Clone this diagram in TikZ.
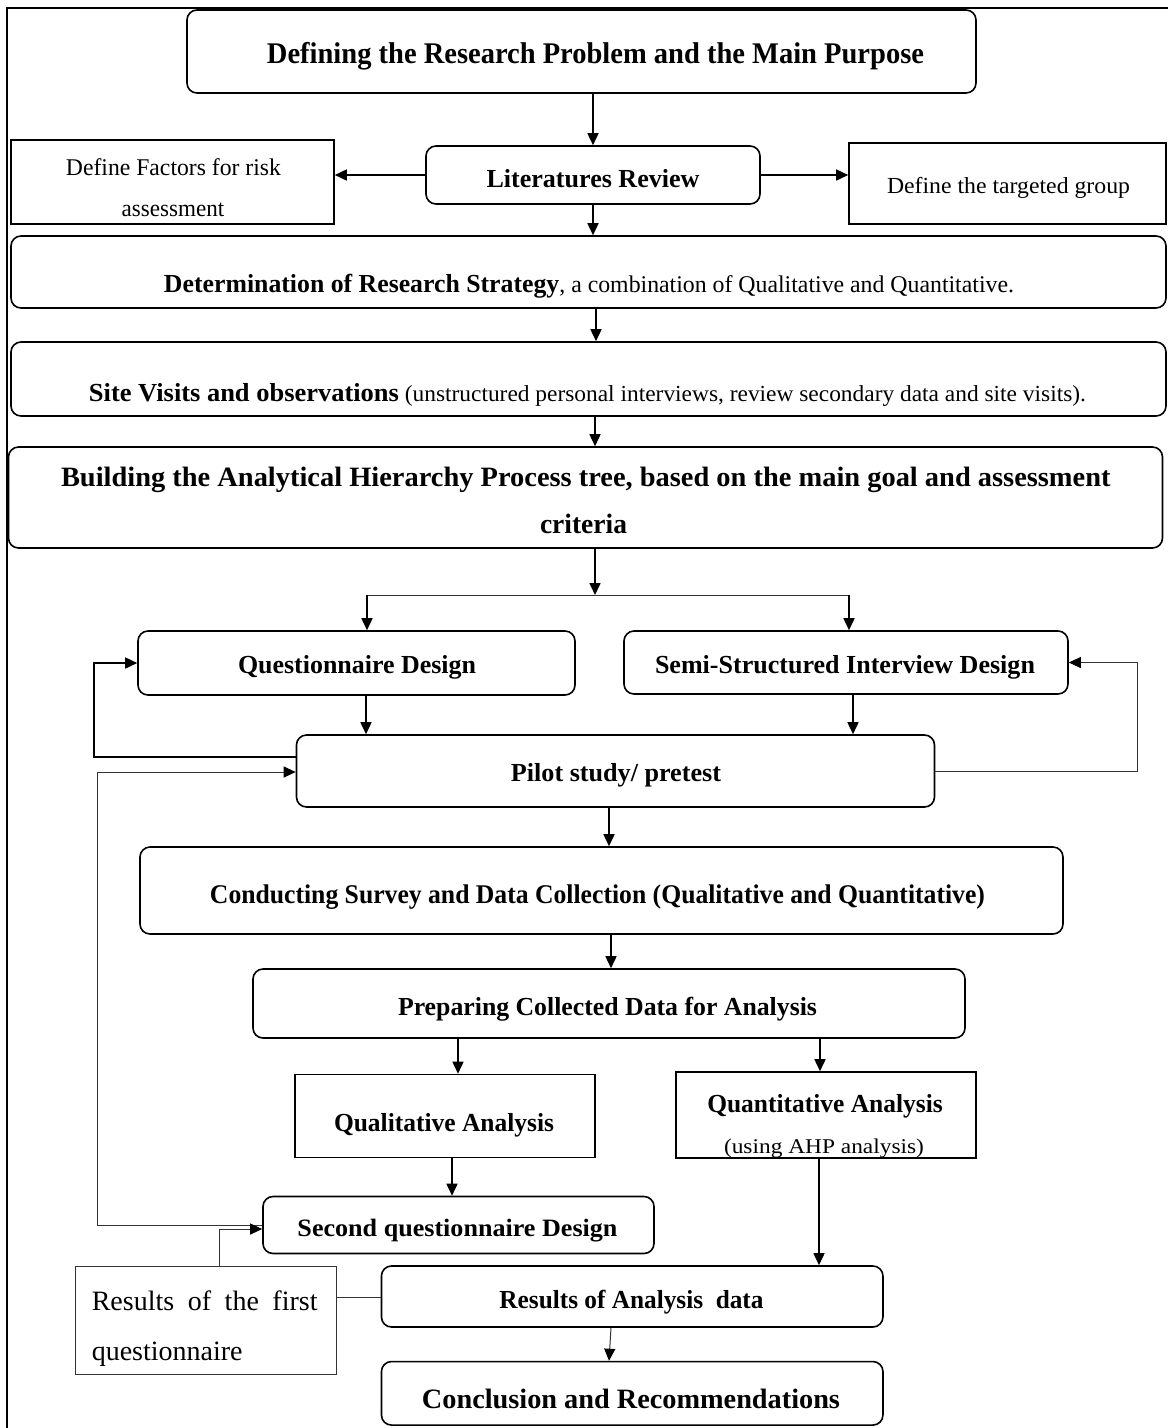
\documentclass[tikz,border=0pt]{standalone}
\usepackage{fontspec}
\setmainfont{Liberation Serif}
\usepackage{graphicx}
\usetikzlibrary{arrows.meta}

% font size helpers (bold / regular)
\newcommand\bsz[1]{\fontsize{#1}{#1}\selectfont\bfseries}
\newcommand\rsz[1]{\fontsize{#1}{#1}\selectfont\mdseries}
% one text line: x offset, baseline offset below the node centre, set width, text
\newcommand\tline[4]{\raisebox{-#2pt}[0pt][0pt]{\makebox[0pt][c]{\kern#1pt\kern#1pt\resizebox{#3pt}{\height}{#4}}}}

\tikzset{
  rbox/.style={draw, rounded corners=10pt, line width=1.6pt, inner sep=0pt},
  sbox/.style={draw, rectangle, line width=1.6pt, inner sep=0pt},
  lbox/.style={draw=black!80, rectangle, line width=1pt, inner sep=0pt},
  tip/.style={-{Triangle[length=12pt,width=11pt,color=black]}},
  arr/.style={line width=1.6pt, tip},
  thinln/.style={line width=1pt, draw=black!80},
}

\begin{document}
\begin{tikzpicture}[x=1pt, y=-1pt]
\useasboundingbox (0,0) rectangle (1168,1428);

% page frame
\draw[line width=2pt] (7,1428) -- (7,8) -- (1168,8);

% ---------- boxes ----------
\node[rbox, minimum width=789pt, minimum height=83pt] (title) at (581.5,51.5)
  {\tline{14}{11.5}{657}{\bsz{30}Defining the Research Problem and the Main Purpose}};

\node[rbox, minimum width=334pt, minimum height=58pt] (lit) at (593,175)
  {\tline{0}{12}{213}{\bsz{26}Literatures Review}};

\node[sbox, minimum width=323pt, minimum height=84pt] (factors) at (172.5,182)
  {\tline{1}{-7}{215}{\rsz{24}Define Factors for risk}\tline{0.5}{34}{102.6}{\rsz{24}assessment}};

\node[sbox, minimum width=317pt, minimum height=81pt] (target) at (1007.5,183.5)
  {\tline{1}{9.5}{243}{\rsz{23}Define the targeted group}};

\node[rbox, minimum width=1155pt, minimum height=72pt] (strat) at (588.5,272)
  {\tline{0.5}{20}{850}{{\bsz{26}Determination of Research Strategy}{\rsz{24}, a combination of Qualitative and Quantitative.}}};

\node[rbox, minimum width=1155pt, minimum height=74pt] (site) at (588.5,379)
  {\tline{-1}{22.5}{997}{{\bsz{26}Site Visits and observations}{\rsz{23} (unstructured personal interviews, review secondary data and site visits).}}};

\node[rbox, minimum width=1154pt, minimum height=101pt] (build) at (585.5,497.5)
  {\tline{0.3}{-11.5}{1049.5}{\bsz{28}Building the Analytical Hierarchy Process tree, based on the main goal and assessment}\tline{-2}{35.5}{87}{\bsz{28}criteria}};

\node[rbox, minimum width=437pt, minimum height=64pt] (q) at (356.5,663)
  {\tline{0.5}{10}{238}{\bsz{26}Questionnaire Design}};

\node[rbox, minimum width=444pt, minimum height=63pt] (semi) at (846,662.5)
  {\tline{-1}{10.5}{380}{\bsz{26}Semi-Structured Interview Design}};

\node[rbox, minimum width=638pt, minimum height=72pt] (pilot) at (615.5,771)
  {\tline{0.5}{10.5}{210}{\bsz{26}Pilot study/ pretest}};

\node[rbox, minimum width=923pt, minimum height=87pt] (conduct) at (601.5,890.5)
  {\tline{-4}{12.5}{775}{\bsz{27}Conducting Survey and Data Collection (Qualitative and Quantitative)}};

\node[rbox, minimum width=712pt, minimum height=69pt] (prep) at (609,1003.5)
  {\tline{-1.5}{11.5}{419}{\bsz{26}Preparing Collected Data for Analysis}};

\node[sbox, minimum width=300pt, minimum height=83pt] (qual) at (445,1116)
  {\tline{-1}{15}{220}{\bsz{26}Qualitative Analysis}};

\node[sbox, minimum width=300pt, minimum height=86pt] (quant) at (826,1115)
  {\tline{-1}{-2.7}{235.5}{\bsz{26}Quantitative Analysis}\tline{-2}{38}{200}{\rsz{21}(using AHP analysis)}};

\node[rbox, minimum width=391pt, minimum height=57pt] (secq) at (458.5,1225)
  {\tline{-1}{11.7}{320}{\bsz{25}Second questionnaire Design}};

\node[rbox, minimum width=501.5pt, minimum height=61pt] (resan) at (632.2,1296.5)
  {\tline{-0.7}{12}{264}{\bsz{26}Results of Analysis\ \ data}};

\node[lbox, minimum width=261pt, minimum height=108pt] (resfirst) at (206,1320.5)
  {\tline{-1.3}{-10.5}{225.8}{\rsz{28}\makebox[225.8pt][s]{Results of the first}}\tline{-1.3}{39.5}{225.8}{\rsz{28}\makebox[225.8pt][l]{questionnaire}}};

\node[rbox, minimum width=501.5pt, minimum height=63.5pt] (concl) at (632.2,1393.3)
  {\tline{-1.2}{14.7}{418}{\bsz{28}Conclusion and Recommendations}};

% ---------- main flow ----------
\draw[arr] (title.south -| lit.north) -- (lit.north);
\draw[arr] (lit.west) -- (lit.west -| factors.east);
\draw[arr] (lit.east) -- (lit.east -| target.west);
\draw[arr] (lit.south) -- (lit.south |- strat.north);

\coordinate (c1) at (596,0);
\draw[arr] (c1 |- strat.south) -- (c1 |- site.north);
\coordinate (c2) at (595,0);
\draw[arr] (c2 |- site.south) -- (c2 |- build.north);

% split towards the two design boxes
\coordinate (split) at (595,595);
\coordinate (sq) at (367,595);
\coordinate (ss) at (849,595);
\draw[arr] (split |- build.south) -- (split);
\draw[thinln] (sq) -- (ss);
\draw[arr] (sq) -- (sq |- q.north);
\draw[arr] (ss) -- (ss |- semi.north);

\coordinate (c3) at (366,0);
\draw[arr] (c3 |- q.south) -- (c3 |- pilot.north);
\coordinate (c4) at (853,0);
\draw[arr] (c4 |- semi.south) -- (c4 |- pilot.north);

\coordinate (c5) at (609,0);
\draw[arr] (c5 |- pilot.south) -- (c5 |- conduct.north);
\coordinate (c6) at (611,0);
\draw[arr] (c6 |- conduct.south) -- (c6 |- prep.north);
\coordinate (c7) at (458,0);
\draw[arr] (c7 |- prep.south) -- (c7 |- qual.north);
\coordinate (c8) at (820,0);
\draw[arr] (c8 |- prep.south) -- (c8 |- quant.north);
\coordinate (c9) at (452,0);
\draw[arr] (c9 |- qual.south) -- (c9 |- secq.north);
\coordinate (c10) at (819,0);
\draw[arr] (c10 |- quant.south) -- (c10 |- resan.north);
\coordinate (c11) at (611,0);
\coordinate (c12) at (609,0);
\draw[thinln, tip] (c11 |- resan.south) -- (c12 |- concl.north);

% ---------- feedback loops ----------
\coordinate (lp1) at (94,757);
\draw[arr] (lp1 -| pilot.west) -- (lp1) -- (lp1 |- q.west) -- (q.west);
\coordinate (lp2) at (97,772);
\draw[thinln, tip] (secq.west) -- (secq.west -| lp2) -- (lp2) -- (lp2 -| pilot.west);
\coordinate (lp3) at (1137,771);
\draw[thinln, tip] (lp3 -| pilot.east) -- (lp3) -- (lp3 |- semi.east) -- (semi.east);

% first questionnaire results
\coordinate (rf) at (219,1229);
\draw[thinln, tip] (rf |- resfirst.north) -- (rf) -- (rf -| secq.west);
\coordinate (rl) at (0,1297);
\draw[thinln] (rl -| resfirst.east) -- (rl -| resan.west);
\end{tikzpicture}
\end{document}
